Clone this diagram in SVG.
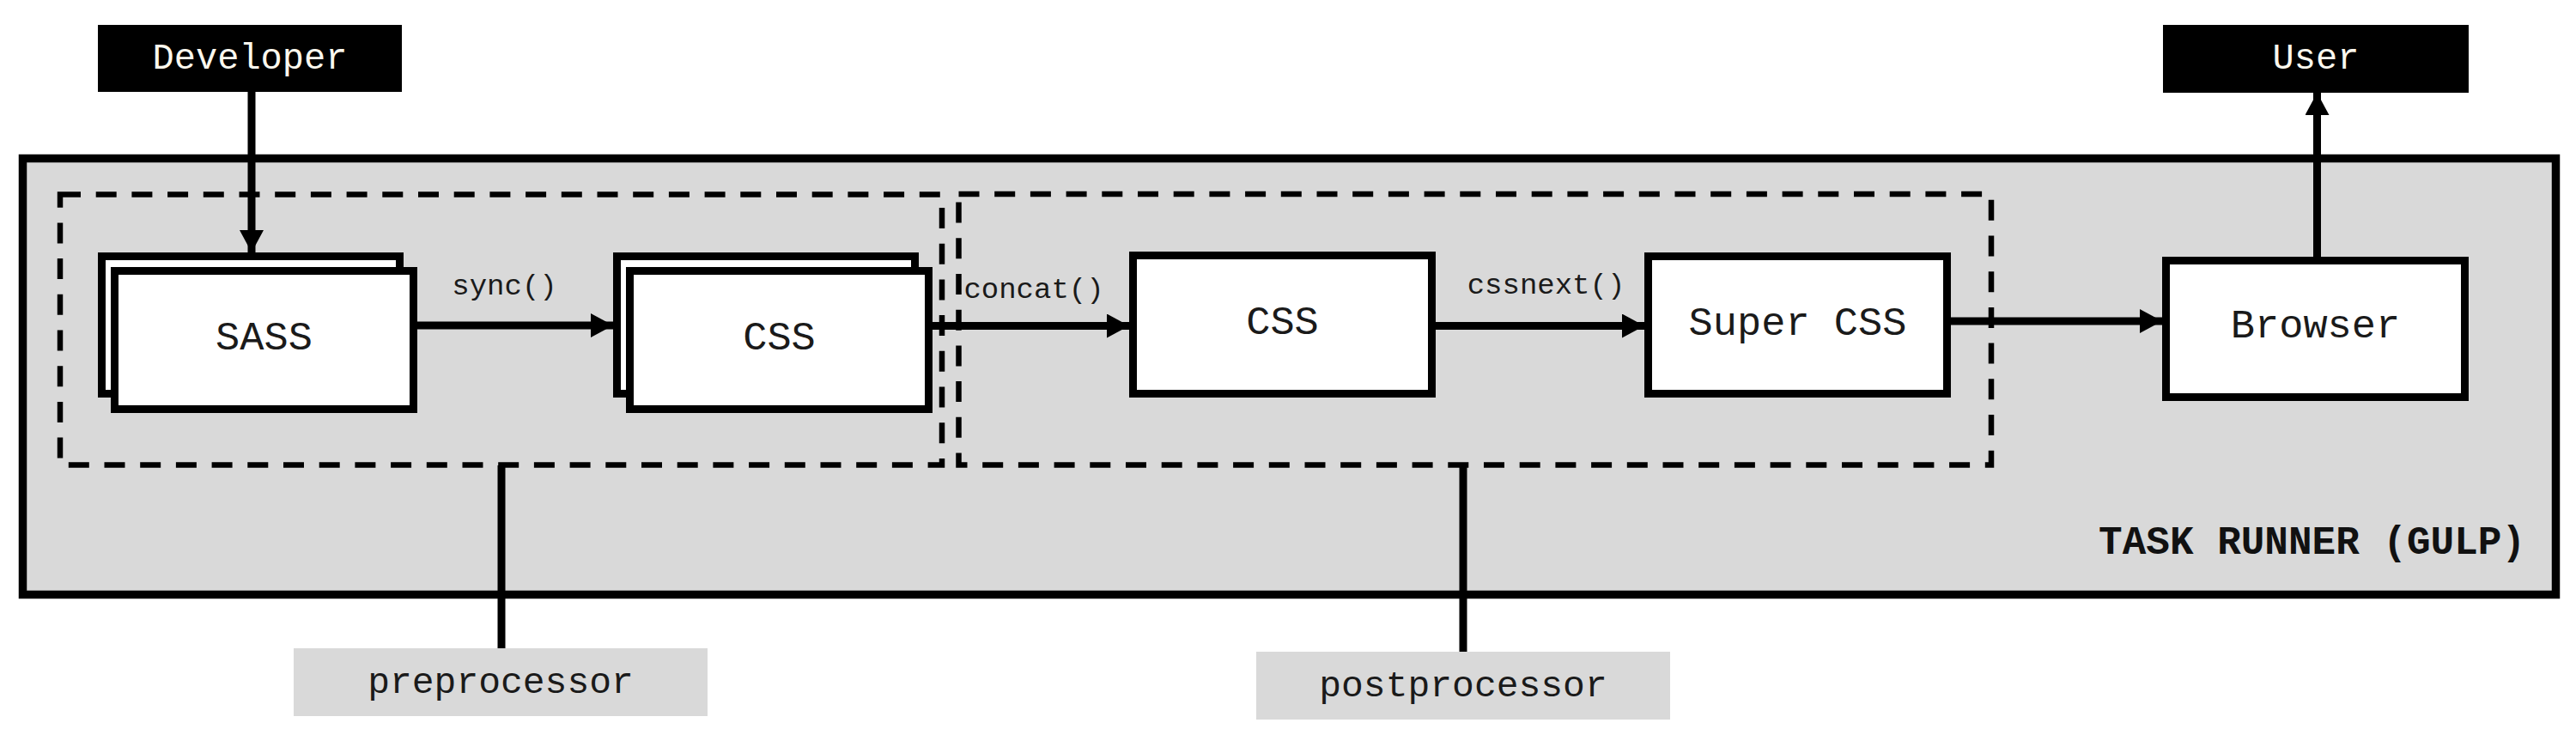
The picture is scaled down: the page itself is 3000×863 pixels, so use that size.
<svg xmlns="http://www.w3.org/2000/svg" width="3000" height="863" viewBox="0 0 3000 863">
  <style>
    .box { fill: #ffffff; stroke: #000000; stroke-width: 9; }
    .actor { fill: #000000; }
    .dash { fill: none; stroke: #000000; stroke-width: 6.5; stroke-dasharray: 24 17.7; }
    .lbl { font-family: "Liberation Mono", "Courier New", monospace; fill: #1a1a1a; text-anchor: middle; }
    .big { font-size: 47px; }
    .small { font-size: 34px; }
    .note { font-size: 43px; }
    .actor-text { font-family: "Liberation Mono", "Courier New", monospace; font-size: 42px; fill: #fbf8ee; text-anchor: middle; }
    .edge { stroke: #000000; stroke-width: 9; fill: none; }
    .tag { fill: #d9d9d9; }
  </style>
  <defs>
    <marker id="arrow" markerUnits="userSpaceOnUse" markerWidth="26" markerHeight="28" refX="26" refY="14" orient="auto">
      <path d="M0,0 L26,14 L0,28 Z" fill="#000000"/>
    </marker>
  </defs>

  <rect width="3000" height="863" fill="#ffffff"/>

  <g id="task-runner">
    <rect x="26.5" y="184.5" width="2950" height="508" fill="#d9d9d9" stroke="#000000" stroke-width="9.5"/>
    <text x="2941" y="645" font-family="Liberation Mono, Courier New, monospace" font-size="46" font-weight="bold" fill="#111111" text-anchor="end">TASK RUNNER (GULP)</text>
  </g>

  <g id="preprocessor-group">
    <rect class="dash" x="70" y="226.5" width="1027" height="315"/>
  </g>
  <g id="postprocessor-group">
    <rect class="dash" x="1116.5" y="226" width="1202.5" height="315.5"/>
  </g>

  <g id="developer">
    <rect class="actor" x="114" y="29" width="354" height="78"/>
    <text class="actor-text" x="291" y="80">Developer</text>
  </g>

  <g id="user">
    <rect class="actor" x="2519" y="29" width="356" height="79"/>
    <text class="actor-text" x="2697" y="80">User</text>
  </g>

  <g id="sass">
    <rect class="box" x="118.5" y="298.5" width="347" height="160"/>
    <rect class="box" x="133.5" y="315.5" width="348" height="161"/>
    <text class="lbl big" x="307.5" y="407">SASS</text>
  </g>

  <g id="css-1">
    <rect class="box" x="718.5" y="298.5" width="347" height="160"/>
    <rect class="box" x="733.5" y="315.5" width="348" height="161"/>
    <text class="lbl big" x="907.5" y="407">CSS</text>
  </g>

  <g id="css-2">
    <rect class="box" x="1319.5" y="297.5" width="348" height="161"/>
    <text class="lbl big" x="1493.5" y="389">CSS</text>
  </g>

  <g id="super-css">
    <rect class="box" x="1919.5" y="298.5" width="348" height="160"/>
    <text class="lbl big" x="2093.5" y="390">Super CSS</text>
  </g>

  <g id="browser">
    <rect class="box" x="2522.5" y="303.5" width="348" height="159"/>
    <text class="lbl big" x="2696.5" y="393">Browser</text>
  </g>

  <g id="preprocessor-label">
    <rect class="tag" x="342" y="755" width="482" height="79"/>
    <text class="lbl note" x="583" y="807">preprocessor</text>
  </g>

  <g id="postprocessor-label">
    <rect class="tag" x="1463" y="759" width="482" height="79"/>
    <text class="lbl note" x="1704" y="811">postprocessor</text>
  </g>

  <g id="connectors">
    <line class="edge" x1="293" y1="107" x2="293" y2="294" marker-end="url(#arrow)"/>
    <line class="edge" x1="486" y1="379" x2="714" y2="379" marker-end="url(#arrow)"/>
    <text class="lbl small" x="587.5" y="343">sync()</text>
    <line class="edge" x1="1086" y1="379.5" x2="1315" y2="379.5" marker-end="url(#arrow)"/>
    <text class="lbl small" x="1204" y="347">concat()</text>
    <line class="edge" x1="1672" y1="379.5" x2="1915" y2="379.5" marker-end="url(#arrow)"/>
    <text class="lbl small" x="1800.5" y="342">cssnext()</text>
    <line class="edge" x1="2272" y1="374" x2="2518" y2="374" marker-end="url(#arrow)"/>
    <line class="edge" x1="2698.5" y1="299" x2="2698.5" y2="108" marker-end="url(#arrow)"/>
    <line class="edge" x1="584" y1="542" x2="584" y2="755"/>
    <line class="edge" x1="1704" y1="542" x2="1704" y2="759"/>
  </g>
</svg>
